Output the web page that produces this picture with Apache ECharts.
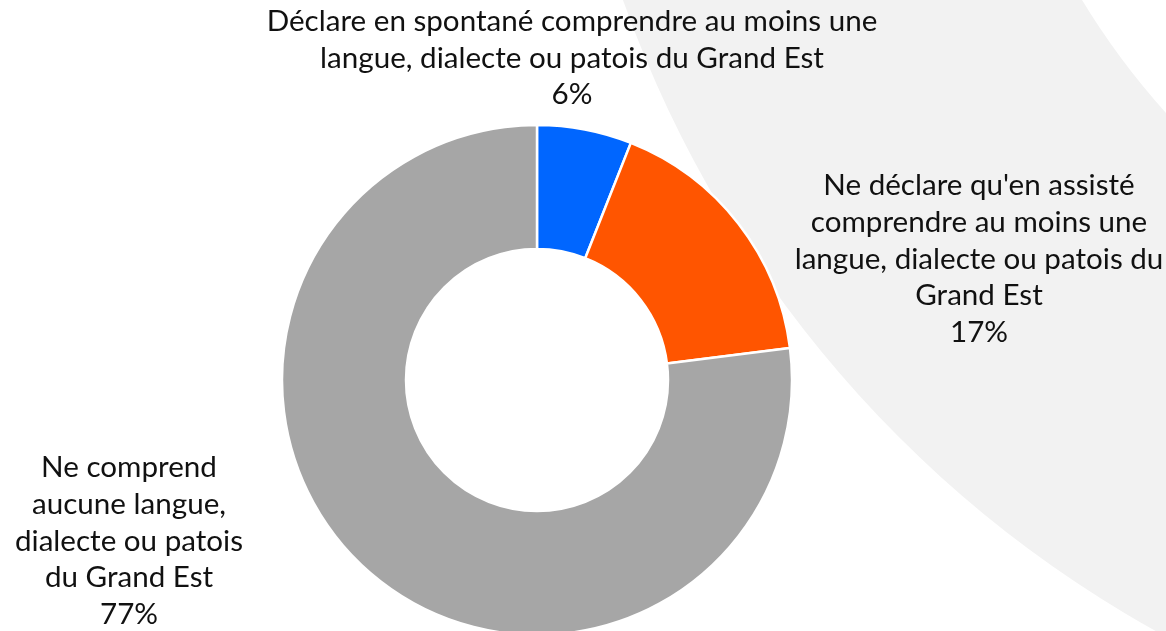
<!DOCTYPE html>
<html>
<head>
<meta charset="utf-8">
<script src="https://cdn.jsdelivr.net/npm/echarts@6/dist/echarts.min.js"></script>
<style>
html,body{margin:0;padding:0;background:#fff;}
#chart{width:1166px;height:631px;}
</style>
</head>
<body>
<div id="chart"></div>
<script>
const categories = [
  "Déclare en spontané comprendre au moins une\nlangue, dialecte ou patois du Grand Est",
  "Ne déclare qu'en assisté\ncomprendre au moins une\nlangue, dialecte ou patois du\nGrand Est",
  "Ne comprend\naucune langue,\ndialecte ou patois\ndu Grand Est"
];
const values = [6, 17, 77];
const colors = ["#0066FF", "#FF5500", "#A6A6A6"];
const labelCenters = [[572, 58], [979, 259], [129, 541]];

const chart = echarts.init(document.getElementById('chart'), null, {renderer: 'canvas'});
chart.setOption({
  animation: false,
  backgroundColor: '#ffffff',
  graphic: [{
    type: 'ring',
    z: -10,
    silent: true,
    shape: {cx: 1725, cy: -390, r: 1169, r0: 752},
    style: {fill: '#F2F2F2'}
  }],
  series: [{
    type: 'pie',
    radius: [131, 255],
    center: [537, 380],
    startAngle: 90,
    clockwise: true,
    avoidLabelOverlap: false,
    itemStyle: {borderColor: '#ffffff', borderWidth: 2.5},
    label: {
      show: true,
      position: 'outside',
      formatter: p => p.name + '\n' + p.value + '%',
      fontFamily: 'Lato',
      fontSize: 29.6,
      lineHeight: 36.6,
      color: '#111111',
      align: 'center'
    },
    labelLine: {show: false},
    labelLayout: function (params) {
      const c = labelCenters[params.dataIndex];
      return {x: c[0], y: c[1], align: 'center', verticalAlign: 'middle'};
    },
    data: categories.map((n, i) => ({name: n, value: values[i], itemStyle: {color: colors[i]}}))
  }]
});
</script>
</body>
</html>
